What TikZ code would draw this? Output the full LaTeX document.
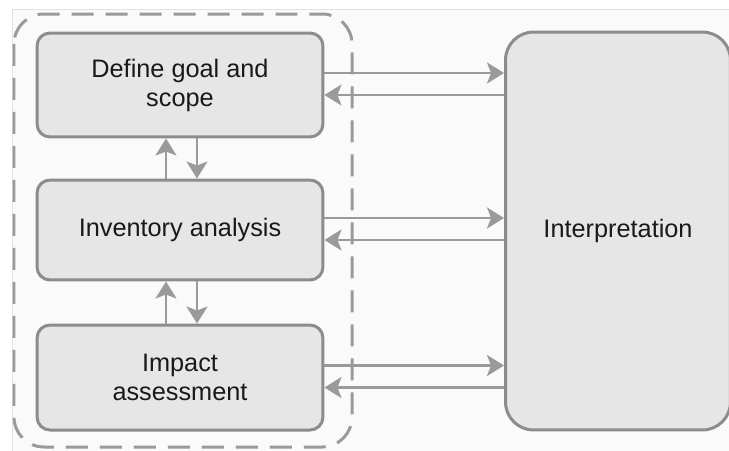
\documentclass[tikz,border=0pt]{standalone}
\usepackage{fontspec}
\setmainfont{Liberation Sans}
\usepackage{xcolor}
\usepackage{tikz}
\usetikzlibrary{arrows.meta,positioning}
\definecolor{edgec}{HTML}{8C8C8C}
\definecolor{arc}{HTML}{9A9A9A}
\definecolor{boxbg}{HTML}{E6E6E6}
\definecolor{panelbg}{HTML}{FAFAFA}
\definecolor{panelc}{HTML}{E2E2E2}
\tikzset{
  ar/.style={-{Stealth[length=0.34cm,width=0.42cm,inset=0.08cm,fill=arc]},line width=0.05cm,arc},
  box/.style={draw=edgec,line width=0.06cm,rounded corners=0.26cm,fill=boxbg,align=center,
    minimum width=5.72cm,text=black!90,font=\fontsize{14.4}{16.5}\selectfont},
  grp/.style={draw=arc,line width=0.06cm,dash pattern=on 0.44cm off 0.24cm,rounded corners=0.6cm}
}
\begin{document}
\begin{tikzpicture}[x=0.02cm,y=-0.02cm]
\useasboundingbox (0,0) rectangle (729,450);
\fill[white] (0,0) rectangle (729,450);
\draw[panelc,fill=panelbg] (12,9) rectangle (740,460);
% stages of the assessment
\node[box,minimum height=2.08cm] (goal) at (180,85) {Define goal and\\scope};
\node[box,minimum height=2.0cm] (inv) at (180,230) {Inventory analysis};
\node[box,minimum height=2.1cm] (imp) at (180,377.5) {Impact\\assessment};
\node[box,minimum width=4.5cm,minimum height=7.96cm,rounded corners=0.56cm] (interp) at (618,231) {Interpretation};
\draw[grp] (14,14) rectangle (352,447);
% links to interpretation
\foreach \b in {goal,inv,imp}{
  \draw[ar] ([yshift=0.24cm]\b.east) -- ([yshift=0.24cm]\b.east -| interp.west);
  \draw[ar] ([yshift=-0.2cm]\b.east -| interp.west) -- ([yshift=-0.2cm]\b.east);
}
% links between stages
\draw[ar] ([xshift=-0.28cm]inv.north) -- ([xshift=-0.28cm]goal.south);
\draw[ar] ([xshift=0.34cm]goal.south) -- ([xshift=0.34cm]inv.north);
\draw[ar] ([xshift=-0.28cm]imp.north) -- ([xshift=-0.28cm]inv.south);
\draw[ar] ([xshift=0.34cm]inv.south) -- ([xshift=0.34cm]imp.north);
\end{tikzpicture}
\end{document}
